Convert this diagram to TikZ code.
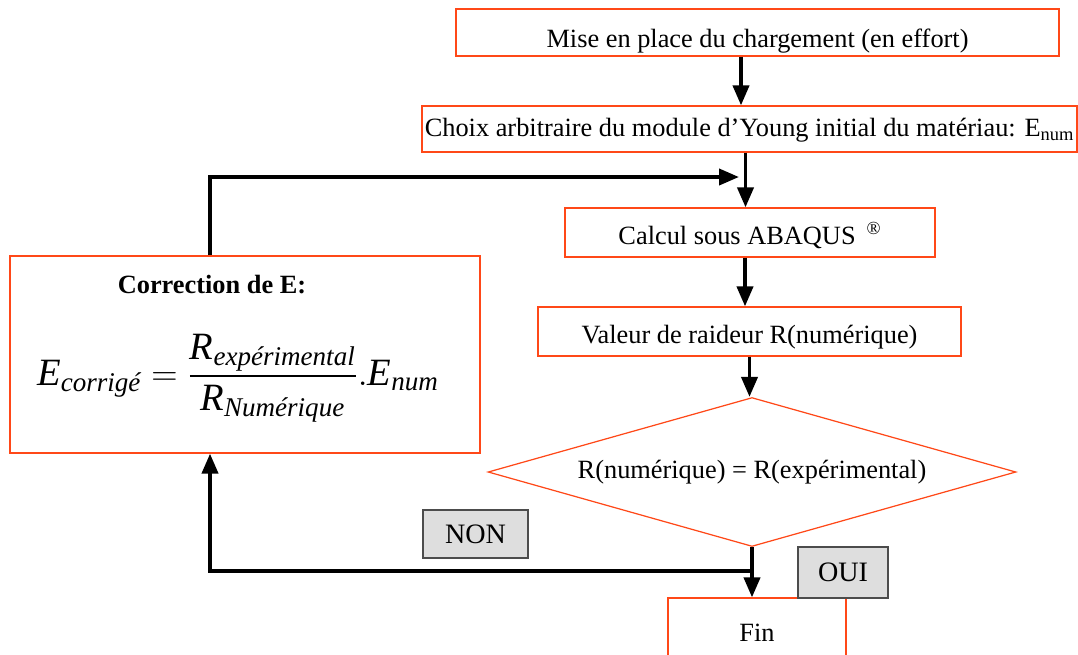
\documentclass[tikz,border=0pt]{standalone}
\usepackage{fontspec}
\setmainfont{Liberation Serif}
\usepackage{amsmath}
\usetikzlibrary{shapes.geometric, arrows.meta, positioning, calc}
\definecolor{boxred}{RGB}{255,72,24}
\definecolor{tagfill}{RGB}{222,222,222}

\begin{document}
\begin{tikzpicture}[
  x=0.02cm, y=-0.02cm,
  box/.style={rectangle, draw=boxred, line width=0.7pt, minimum height=0.94cm,
              inner sep=0pt, align=center, text height=0.56cm, text depth=0.1cm,
              font=\fontsize{15}{18}\selectfont},
  decision/.style={diamond, draw=boxred, line width=0.7pt, aspect=3.54, minimum width=10.56cm,
                   minimum height=2.98cm, inner sep=0pt, font=\fontsize{15}{18}\selectfont},
  tag/.style={rectangle, draw=black!70, fill=tagfill, line width=0.7pt,
              inner sep=0pt, font=\fontsize{16}{19}\selectfont},
  arrow/.style={-{Triangle[length=0.4cm, width=0.32cm]}, line width=2.2pt},
]
  \useasboundingbox (0,0) rectangle (1078,654);

  \node[box, minimum width=12.06cm, text height=0.7cm] (load) at (757.5, 32.5)
       {Mise en place du chargement (en effort)};
  \node[box, minimum width=13.1cm, minimum height=0.92cm, text height=0.4cm] (choix) at (749.5, 129)
       {Choix arbitraire du module d'Young initial du matériau: E\textsubscript{num}};
  \node[box, minimum width=7.4cm, minimum height=0.98cm] (calc) at (750, 232.5)
       {Calcul sous ABAQUS \,\textsuperscript{®}};
  \node[box, minimum width=8.46cm, minimum height=0.98cm] (raid) at (749.5, 331.5)
       {Valeur de raideur R(numérique)};
  \node[decision] (test) at (752, 472) {R(numérique) = R(expérimental)};
  \node[box, minimum width=3.56cm, minimum height=1.48cm, text height=0.37cm] (fin) at (757, 635) {Fin};
  \node[box, minimum width=9.4cm, minimum height=3.94cm] (corr) at (245, 354.5) {};
  \node[font=\fontsize{15}{18}\selectfont\bfseries] (titre) at (212, 285) {Correction de E:};
  \node[font=\fontsize{22}{26}\selectfont] (formule) at (238, 378)
       {$\displaystyle \textit{E}_{\textit{corrigé}} =
         \frac{\textit{R}_{\textit{expérimental}}}{\textit{R}_{\textit{Numérique}}}.\textit{E}_{\textit{num}}$};
  \node[tag, minimum width=2.1cm, minimum height=0.96cm] (non) at (475.5, 534) {NON};
  \node[tag, minimum width=1.8cm, minimum height=1.02cm] (oui) at (843, 572.5) {OUI};

  \coordinate (split) at (752, 571);
  \coordinate (merge) at (739, 177);

  \draw[arrow] ([xshift=-0.33cm]load.south) -- ([xshift=-0.33cm]load.south |- choix.north);
  \draw[arrow] ([xshift=-0.08cm]choix.south) -- ([xshift=-0.08cm]choix.south |- calc.north);
  \draw[arrow] ([xshift=-0.1cm]calc.south) -- ([xshift=-0.1cm]calc.south |- raid.north);
  \draw[arrow] (raid.south) -- (raid.south |- test.north);
  \draw[arrow] (test.south) -- (test.south |- fin.north);
  \draw[arrow] (split) -| ([xshift=-0.7cm]corr.south);
  \draw[arrow] ([xshift=-0.7cm]corr.north) |- (merge);
\end{tikzpicture}
\end{document}
